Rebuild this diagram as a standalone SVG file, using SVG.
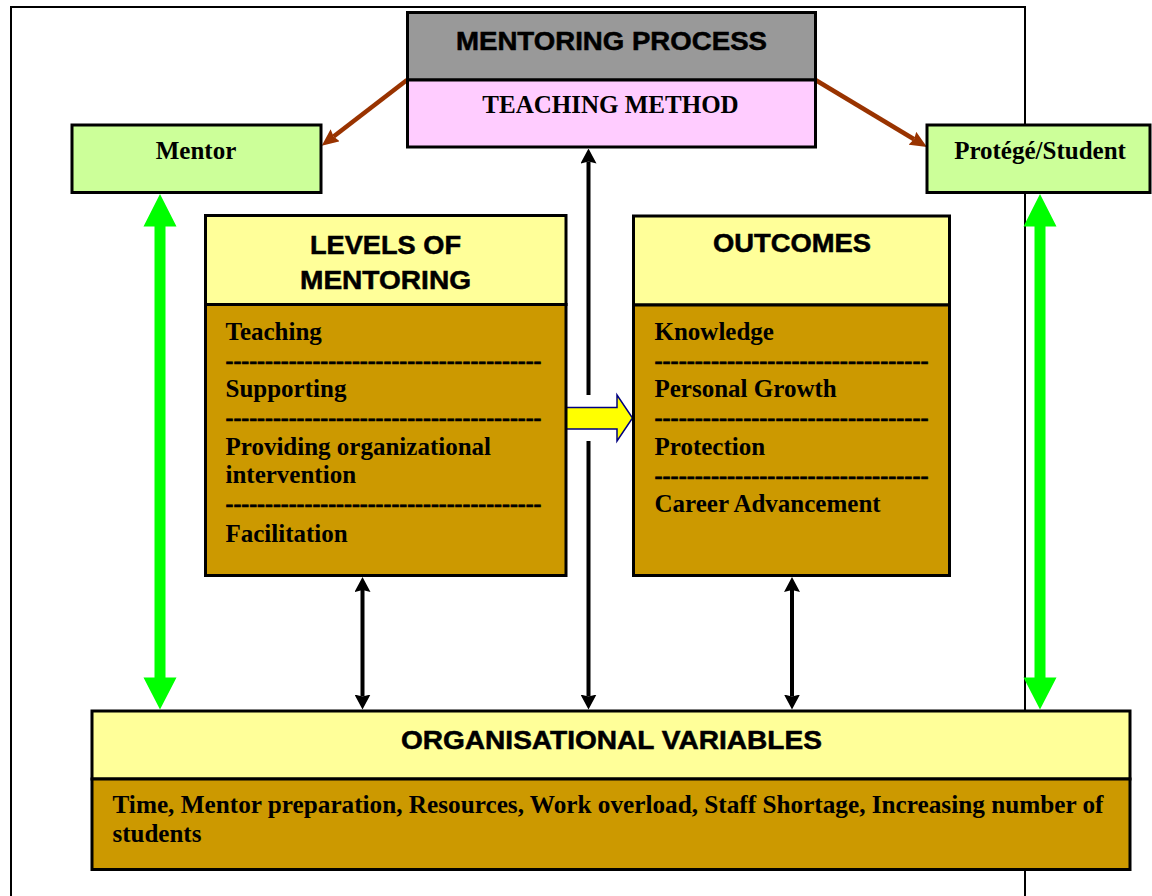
<svg xmlns="http://www.w3.org/2000/svg" width="1152" height="896" viewBox="0 0 1152 896">
  <style>
    .box { stroke: #000; stroke-width: 3; }
    .hd { font-family: "Liberation Sans", Arial, sans-serif; font-weight: bold; font-size: 25px; fill: #000; stroke: #000; stroke-width: 0.5; text-anchor: middle; }
    .tm { font-family: "Liberation Serif", "Times New Roman", serif; font-weight: bold; font-size: 25px; fill: #000; }
    .dash { stroke: #000; stroke-width: 0.6; }
    .mid { text-anchor: middle; }
    .blk { fill: none; stroke: #000; stroke-width: 4; }
    .brn { fill: none; stroke: #993300; stroke-width: 4.5; }
    .grn { fill: #00FF00; stroke: none; }
    .yel { fill: #FFFF00; stroke: #000080; stroke-width: 1.5; }
  </style>
  <defs>
    <marker id="headBlack" markerUnits="userSpaceOnUse" viewBox="0 0 15 16" markerWidth="15" markerHeight="16" refX="2" refY="8" orient="auto-start-reverse">
      <path d="M0,0 L15,8 L0,16 L2,8 Z" fill="#000"/>
    </marker>
    <marker id="headBrown" markerUnits="userSpaceOnUse" viewBox="0 0 17 15" markerWidth="17" markerHeight="15" refX="2" refY="7.5" orient="auto">
      <path d="M0,0 L17,7.5 L0,15 L2,7.5 Z" fill="#993300"/>
    </marker>
  </defs>

  <rect width="1152" height="896" fill="#fff"/>

  <!-- page frame -->
  <path d="M11,896 V7 H1025 V896" fill="none" stroke="#000" stroke-width="2"/>

  <g id="connectors">
    <!-- process to mentor / protege -->
    <path class="brn" d="M407,80 L333.6,136.5" marker-end="url(#headBrown)"/>
    <path class="brn" d="M815.5,80 L914.1,139.3" marker-end="url(#headBrown)"/>
    <!-- central two-way link, broken around the yellow arrow -->
    <path class="blk" d="M588.5,161.5 V395 M588.5,441 V696.5" marker-start="url(#headBlack)" marker-end="url(#headBlack)"/>
    <!-- levels / outcomes to organisational variables -->
    <path class="blk" d="M362.5,590 V696.5" marker-start="url(#headBlack)" marker-end="url(#headBlack)"/>
    <path class="blk" d="M792,590 V696.5" marker-start="url(#headBlack)" marker-end="url(#headBlack)"/>
    <!-- green two-way arrows -->
    <polygon class="grn" points="160,194 176.5,226.5 165.5,226.5 165.5,677.5 176.5,677.5 160,709.5 143.5,677.5 154.5,677.5 154.5,226.5 143.5,226.5"/>
    <polygon class="grn" points="1040,194 1056.5,226.5 1045.5,226.5 1045.5,677.5 1056.5,677.5 1040,709.5 1023.5,677.5 1034.5,677.5 1034.5,226.5 1023.5,226.5"/>
    <!-- levels to outcomes -->
    <polygon class="yel" points="566,407.5 617,407.5 617,395 632.5,418 617,441 617,429 566,429"/>
  </g>

  <g id="mentoring-process">
    <rect class="box" x="407.5" y="12.5" width="408" height="67.5" fill="#999999"/>
    <rect class="box" x="407.5" y="80" width="408" height="67" fill="#FFCCFF"/>
    <text class="hd" x="611.5" y="50" textLength="311" lengthAdjust="spacingAndGlyphs">MENTORING PROCESS</text>
    <text class="tm mid" x="610.5" y="113.3">TEACHING METHOD</text>
  </g>

  <g id="mentor">
    <rect class="box" x="72" y="125" width="249" height="67.5" fill="#CCFF99"/>
    <text class="tm mid" x="196" y="159.3">Mentor</text>
  </g>

  <g id="protege">
    <rect class="box" x="927" y="125" width="223" height="67.5" fill="#CCFF99"/>
    <text class="tm mid" x="1040" y="159.3">Protégé/Student</text>
  </g>

  <g id="levels">
    <rect class="box" x="205.5" y="215.5" width="360.5" height="89" fill="#FFFF99"/>
    <rect class="box" x="205.5" y="304.5" width="360.5" height="271" fill="#CC9900"/>
    <text class="hd" x="385.5" y="254" textLength="151" lengthAdjust="spacingAndGlyphs">LEVELS OF</text>
    <text class="hd" x="385.5" y="289" textLength="171" lengthAdjust="spacingAndGlyphs">MENTORING</text>
    <text class="tm" x="225.5" y="340">Teaching</text>
    <text class="tm dash" x="225.5" y="368.7" textLength="316" lengthAdjust="spacingAndGlyphs">----------------------------------------</text>
    <text class="tm" x="225.5" y="397">Supporting</text>
    <text class="tm dash" x="225.5" y="426" textLength="316" lengthAdjust="spacingAndGlyphs">----------------------------------------</text>
    <text class="tm" x="225.5" y="454.5">Providing organizational</text>
    <text class="tm" x="225.5" y="483.3">intervention</text>
    <text class="tm dash" x="225.5" y="512.2" textLength="316" lengthAdjust="spacingAndGlyphs">----------------------------------------</text>
    <text class="tm" x="225.5" y="541.5">Facilitation</text>
  </g>

  <g id="outcomes">
    <rect class="box" x="633.5" y="216" width="316" height="89" fill="#FFFF99"/>
    <rect class="box" x="633.5" y="305" width="316" height="270.5" fill="#CC9900"/>
    <text class="hd" x="792" y="251.7" textLength="158" lengthAdjust="spacingAndGlyphs">OUTCOMES</text>
    <text class="tm" x="654.5" y="340">Knowledge</text>
    <text class="tm dash" x="654.5" y="368.7" textLength="274" lengthAdjust="spacingAndGlyphs">----------------------------------</text>
    <text class="tm" x="654.5" y="397">Personal Growth</text>
    <text class="tm dash" x="654.5" y="426" textLength="274" lengthAdjust="spacingAndGlyphs">----------------------------------</text>
    <text class="tm" x="654.5" y="455">Protection</text>
    <text class="tm dash" x="654.5" y="483.7" textLength="274" lengthAdjust="spacingAndGlyphs">----------------------------------</text>
    <text class="tm" x="654.5" y="512.2">Career Advancement</text>
  </g>

  <g id="organisational-variables">
    <rect class="box" x="92" y="711" width="1038" height="68" fill="#FFFF99"/>
    <rect class="box" x="92" y="779" width="1038" height="90.5" fill="#CC9900"/>
    <text class="hd" x="611.4" y="749" textLength="421" lengthAdjust="spacingAndGlyphs">ORGANISATIONAL VARIABLES</text>
    <text class="tm" x="112.5" y="813.3" textLength="991" lengthAdjust="spacingAndGlyphs">Time, Mentor preparation, Resources, Work overload, Staff Shortage, Increasing number of</text>
    <text class="tm" x="112.5" y="841.7">students</text>
  </g>
</svg>
